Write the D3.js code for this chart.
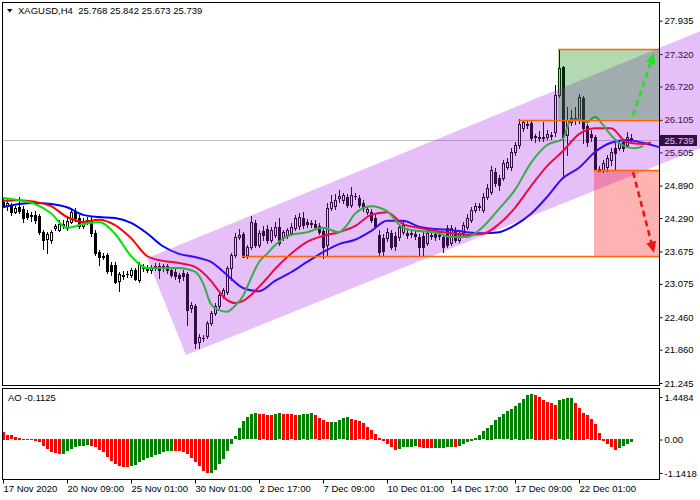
<!DOCTYPE html>
<html>
<head>
<meta charset="utf-8">
<script src="https://cdn.jsdelivr.net/npm/d3@7"></script>
<style>
  body { margin: 0; background: #fff; }
  text { font-family: "Liberation Sans", Arial, sans-serif; font-size: 9.5px; }
</style>
</head>
<body>
<div id="chart"></div>
<script>
const symbol = "XAGUSD,H4";

// x axis labels and the bar they sit on
const dateBars = [0, 16, 32, 48, 64, 80, 96, 112, 128, 144];
const dateLabels = ["17 Nov 2020", "20 Nov 09:00", "25 Nov 01:00", "30 Nov 01:00", "2 Dec 17:00",
  "7 Dec 09:00", "10 Dec 01:00", "14 Dec 17:00", "17 Dec 09:00", "22 Dec 01:00"];

const priceTicks = [27.935, 27.32, 26.72, 26.105, 25.505, 24.89, 24.29, 23.675, 23.075, 22.46, 21.86, 21.245];
const aoTicks = [1.4484, 0, -1.1418];
const aoTickLabels = ["1.4484", "0.00", "-1.1418"];

// H4 candles
const opens = [24.59,24.51,24.53,24.40,24.50,24.46,24.38,24.33,24.35,24.33,24.03,23.90,23.88,24.11,24.07,24.18,24.11,24.22,24.40,24.29,
  24.14,24.25,24.25,24.01,23.66,23.59,23.61,23.42,23.42,23.13,23.24,23.26,23.24,23.33,23.15,23.37,23.37,23.33,23.37,23.41,
  23.37,23.41,23.33,23.29,23.24,23.28,23.26,22.63,22.67,22.00,22.08,22.11,22.35,22.54,22.67,22.85,22.93,23.37,23.61,23.94,
  24.00,23.61,23.76,24.20,23.79,24.05,24.09,23.88,23.98,24.13,23.94,23.98,24.01,24.11,24.14,24.29,24.22,24.18,24.18,24.14,
  24.05,23.79,24.48,24.51,24.66,24.62,24.68,24.53,24.70,24.66,24.57,24.40,24.40,24.29,23.98,23.92,23.92,24.01,23.96,23.94,
  24.03,24.01,24.01,24.00,23.94,23.96,23.83,23.98,24.00,23.98,23.94,24.11,23.83,24.07,23.88,24.01,24.13,24.25,24.44,24.50,
  24.44,24.68,24.77,25.14,25.03,25.03,25.23,25.23,25.51,25.64,25.95,26.01,26.05,25.79,25.79,25.77,25.79,25.83,25.88,26.56,
  27.08,25.83,26.07,26.14,26.10,26.51,25.99,25.84,25.79,25.20,25.18,25.23,25.36,25.58,25.58,25.69,25.64,25.768];
const highs = [24.64,24.64,24.57,24.51,24.68,24.51,24.44,24.40,24.42,24.37,24.07,24.03,24.07,24.18,24.25,24.25,24.33,24.48,24.48,24.35,
  24.29,24.31,24.31,24.07,23.70,23.65,23.65,23.48,23.48,23.29,23.31,23.31,23.37,23.37,23.48,23.44,23.42,23.42,23.46,23.46,
  23.44,23.44,23.37,23.35,23.28,23.33,23.29,22.74,22.70,22.15,22.13,22.39,22.57,22.72,22.93,23.00,23.41,23.65,24.01,24.09,
  24.03,23.79,24.33,24.25,24.07,24.14,24.16,24.13,24.22,24.29,24.07,24.11,24.20,24.35,24.38,24.40,24.27,24.25,24.25,24.20,
  24.11,24.57,24.72,24.73,24.81,24.75,24.73,24.86,24.75,24.72,24.62,24.51,24.46,24.37,24.07,24.00,24.11,24.07,24.03,24.18,
  24.25,24.09,24.09,24.05,24.00,24.03,24.07,24.05,24.05,24.03,24.00,24.16,24.16,24.13,24.07,24.22,24.37,24.50,24.57,24.57,
  24.75,24.92,25.25,25.21,25.09,25.36,25.40,25.58,25.69,26.12,26.10,26.08,26.08,25.84,25.90,26.07,25.92,25.88,26.75,27.41,
  27.10,26.34,26.29,26.34,26.58,26.54,26.03,25.92,25.83,25.25,25.36,25.46,25.58,25.68,25.73,25.75,25.88,25.842];
const lows = [24.50,24.44,24.35,24.38,24.38,24.22,24.27,24.24,24.20,24.00,23.72,23.65,23.83,24.07,24.05,24.11,24.07,24.20,24.24,24.11,
  24.11,24.18,23.96,23.61,23.42,23.53,23.28,23.24,23.09,22.94,23.17,23.20,23.20,23.15,23.11,23.31,23.29,23.28,23.33,23.18,
  23.31,23.28,23.20,23.17,23.11,23.15,22.32,22.56,21.89,21.89,22.02,22.08,22.32,22.50,22.63,22.82,22.89,23.15,23.57,23.90,
  23.59,23.55,23.72,23.76,23.76,23.88,23.83,23.85,23.94,23.79,23.88,23.92,23.98,24.07,24.09,24.11,24.13,24.13,24.09,24.00,
  23.55,23.59,24.44,24.46,24.59,24.57,24.50,24.50,24.64,24.50,24.42,24.37,24.22,24.11,23.59,23.59,23.87,23.72,23.70,23.88,
  24.00,23.92,23.94,23.90,23.61,23.61,23.79,23.90,23.88,23.90,23.66,23.76,23.79,23.85,23.85,23.96,24.09,24.22,24.40,24.44,
  24.40,24.64,24.73,24.88,24.81,24.99,25.20,25.18,25.46,25.58,25.90,25.95,25.73,25.69,25.71,25.71,25.75,25.75,25.81,26.53,
  25.03,25.46,26.01,26.03,26.05,25.68,25.62,25.71,25.18,25.16,25.14,25.16,25.27,25.18,25.55,25.53,25.60,25.673];
const closes = [24.53,24.57,24.40,24.48,24.42,24.29,24.31,24.35,24.25,24.03,23.88,24.00,24.03,24.14,24.18,24.16,24.24,24.40,24.29,24.14,
  24.24,24.22,24.01,23.65,23.57,23.57,23.31,23.31,23.11,23.26,23.23,23.25,23.33,23.17,23.44,23.36,23.33,23.37,23.41,23.33,
  23.41,23.33,23.24,23.22,23.18,23.22,22.59,22.69,21.98,22.10,22.07,22.35,22.54,22.67,22.87,22.96,23.37,23.61,23.94,23.98,
  23.57,23.76,24.22,23.79,24.01,23.98,23.88,24.07,24.13,23.83,24.03,24.07,24.13,24.29,24.31,24.16,24.18,24.20,24.13,24.03,
  23.76,24.48,24.59,24.62,24.70,24.72,24.53,24.72,24.69,24.53,24.48,24.46,24.25,24.14,23.66,23.68,24.03,23.76,23.77,24.13,
  24.16,23.98,24.00,23.96,23.76,23.76,24.01,23.96,23.94,23.96,23.76,23.79,24.11,23.88,24.01,24.16,24.29,24.44,24.51,24.52,
  24.68,24.85,25.18,24.94,24.90,25.31,25.33,25.51,25.64,26.03,26.07,26.03,25.77,25.80,25.77,25.79,25.84,25.81,26.56,27.06,
  25.79,26.10,26.14,26.10,26.53,25.95,25.69,25.79,25.18,25.16,25.31,25.40,25.51,25.49,25.68,25.58,25.79,25.739];

// Awesome Oscillator, one value per bar
const aoValues = [0.26,0.17,0.14,0.09,0.06,0.02,-0.03,-0.05,-0.07,-0.11,-0.23,-0.34,-0.43,-0.48,-0.52,-0.51,-0.40,-0.34,-0.28,-0.25,
  -0.23,-0.19,-0.23,-0.28,-0.36,-0.45,-0.63,-0.74,-0.85,-0.91,-0.94,-0.95,-0.91,-0.88,-0.80,-0.72,-0.66,-0.60,-0.55,-0.50,
  -0.45,-0.42,-0.40,-0.41,-0.42,-0.44,-0.51,-0.66,-0.77,-0.93,-1.08,-1.17,-1.16,-1.05,-0.85,-0.68,-0.40,-0.17,0.11,0.40,
  0.63,0.76,0.86,0.89,0.88,0.86,0.85,0.84,0.87,0.89,0.88,0.87,0.86,0.84,0.85,0.86,0.88,0.89,0.82,0.74,
  0.65,0.59,0.60,0.61,0.66,0.73,0.77,0.70,0.68,0.63,0.55,0.43,0.32,0.19,0.06,-0.06,-0.17,-0.28,-0.36,-0.34,
  -0.28,-0.27,-0.26,-0.25,-0.28,-0.30,-0.31,-0.32,-0.31,-0.30,-0.29,-0.28,-0.26,-0.28,-0.23,-0.18,-0.11,-0.06,0.06,0.17,
  0.28,0.40,0.51,0.65,0.76,0.86,0.97,1.05,1.14,1.25,1.39,1.50,1.55,1.52,1.45,1.36,1.28,1.23,1.19,1.34,
  1.39,1.41,1.43,1.25,1.08,0.91,0.83,0.70,0.53,0.23,-0.06,-0.17,-0.28,-0.36,-0.31,-0.23,-0.17,-0.1125];

// Alligator lines, read every few bars (they run past the last bar)
const lipsBars = [0,4,8,12,16,20,24,28,32,36,40,44,48,50,52,54,56,58,60,62,64,66,68,72,76,80,84,86,88,92,
  96,100,104,108,112,116,120,124,128,132,136,140,141,142,144,146,148,150,152,154,156,158,160];
const lipsValues = [24.66,24.62,24.55,24.38,24.11,24.18,24.22,24.00,23.59,23.37,23.37,23.37,23.30,23.09,22.70,22.59,22.56,22.67,22.85,23.18,
  23.48,23.63,23.79,23.98,24.03,24.11,24.03,24.16,24.37,24.51,24.42,24.11,24.05,24.03,23.94,23.94,24.13,24.46,24.81,25.31,
  25.64,25.75,25.95,26.10,26.10,26.06,26.16,26.01,25.82,25.68,25.60,25.58,25.62];
const teethBars = [0,4,8,12,16,20,24,28,32,36,40,44,48,52,54,56,58,60,62,64,66,68,72,76,80,84,88,92,96,100,
  104,108,112,116,120,124,128,132,136,140,144,148,152,156,160,162];
const teethValues = [24.61,24.62,24.59,24.51,24.31,24.22,24.26,24.16,23.92,23.59,23.50,23.46,23.39,23.13,22.94,22.78,22.72,22.76,22.87,23.02,
  23.18,23.35,23.63,23.85,23.96,24.03,24.14,24.35,24.40,24.18,24.11,24.05,24.01,23.98,24.00,24.18,24.48,24.88,25.25,25.53,
  25.84,25.95,25.95,25.69,25.66,25.68];
const jawBars = [0,4,8,12,16,20,24,28,32,36,40,44,48,52,56,60,64,68,72,76,80,84,88,92,96,100,
  104,108,112,116,120,124,128,132,136,140,144,148,152,156,160,164];
const jawValues = [24.49,24.55,24.57,24.55,24.49,24.35,24.31,24.29,24.20,24.01,23.77,23.63,23.57,23.48,23.24,23.00,22.94,23.13,23.29,23.48,
  23.66,23.81,23.89,24.05,24.24,24.24,24.13,24.09,24.07,24.03,24.01,24.03,24.16,24.37,24.68,25.03,25.22,25.51,25.68,25.73,
  25.68,25.60];

// drawn objects: channel corners [bar, price], levels, zones, arrows
const channelUpper = [[36, 23.55], [174.25, 27.74]];
const channelLower = [[45.75, 21.76], [174.25, 25.58]];
const levelStart = [59.75, 128.75, 138.75, 147.75];
const levelPrice = [23.59, 26.11, 27.41, 25.18];
const buyZone = [138.75, 27.41, 26.11];
const sellZone = [147.75, 25.18, 23.59];
const upArrow = [[157.5, 26.19], [162.75, 27.34]];
const downArrow = [[157.5, 25.14], [162.75, 23.65]];

const W = 700, H = 500;
const left = 2.5, right = 659.5, mainTop = 2.5, mainBottom = 385.5, aoTop = 388.5, aoBottom = 479.5;
const lastBar = 164;

const x = d3.scaleLinear().domain([0, 164]).range([3, 659]);
const y = d3.scaleLinear().domain([21.245, 27.935]).range([383, 20.7]);
const yAO = d3.scaleLinear().domain([-1.1418, 1.4484]).range([473, 397]);

const svg = d3.select("#chart").append("svg")
  .attr("width", W).attr("height", H)
  .style("display", "block");

svg.append("rect").attr("width", W).attr("height", H).attr("fill", "#fff");

svg.append("clipPath").attr("id", "plot")
  .append("rect").attr("x", left).attr("y", mainTop)
  .attr("width", right - left).attr("height", mainBottom - mainTop);

// current price line
const last = closes.length - 1;
svg.append("line")
  .attr("x1", left).attr("x2", right)
  .attr("y1", Math.round(y(closes[last])) + 0.5).attr("y2", Math.round(y(closes[last])) + 0.5)
  .attr("stroke", "#c0c0c0");

// price axis
svg.append("g")
  .attr("transform", `translate(${right},0)`)
  .call(d3.axisRight(y).tickValues(priceTicks).tickFormat(d3.format(".3f")).tickSize(3).tickPadding(2))
  .call((g) => g.select(".domain").remove())
  .attr("font-size", null).attr("font-family", null);

// last price box
const yLast = Math.round(y(closes[last]));
svg.append("rect").attr("x", 660).attr("y", yLast - 5).attr("width", 37).attr("height", 11).attr("fill", "#000");
svg.append("text").attr("x", 664.5).attr("y", yLast + 4).attr("fill", "#fff").text(closes[last].toFixed(3));

// candles
const plot = svg.append("g").attr("clip-path", "url(#plot)");
const bars = opens.map((o, i) => ({ i, o, h: highs[i], l: lows[i], c: closes[i] }));

plot.selectAll(".wick").data(bars).join("line")
  .attr("x1", (d) => x(d.i) + 0.5).attr("x2", (d) => x(d.i) + 0.5)
  .attr("y1", (d) => Math.round(y(d.h))).attr("y2", (d) => Math.round(y(d.l)) + 1)
  .attr("stroke", "#000");

plot.selectAll(".body").data(bars).join("rect")
  .each(function (d) {
    const top = Math.round(y(Math.max(d.o, d.c)));
    const bot = Math.round(y(Math.min(d.o, d.c)));
    const sel = d3.select(this);
    if (d.c >= d.o) {
      // bull candle: white body, black outline
      sel.attr("x", x(d.i) - 0.5).attr("y", top + 0.5)
        .attr("width", 2).attr("height", Math.max(0, bot - top))
        .attr("fill", "#fff").attr("stroke", "#000");
    } else {
      sel.attr("x", x(d.i) - 1).attr("y", top)
        .attr("width", 3).attr("height", Math.max(1, bot - top + 1))
        .attr("fill", "#000");
    }
  });

// alligator
const maLine = d3.line().x((d) => x(d[0])).y((d) => y(d[1])).curve(d3.curveMonotoneX);
[[jawBars, jawValues, "#0000ff"], [teethBars, teethValues, "#ff0000"], [lipsBars, lipsValues, "#00e600"]]
  .forEach(([b, v, col]) => {
    plot.append("path")
      .datum(b.map((d, k) => [d, v[k]]))
      .attr("d", maLine)
      .attr("fill", "none").attr("stroke", col).attr("stroke-width", 2);
  });

// channel over the price data
const corners = [channelUpper[0], channelUpper[1], channelLower[1], channelLower[0]];
svg.append("path")
  .attr("d", "M" + corners.map((d) => `${x(d[0])},${y(d[1])}`).join("L") + "Z")
  .attr("fill", "rgb(172,42,235)").attr("fill-opacity", 0.3);

// target zones
svg.append("rect")
  .attr("x", x(buyZone[0])).attr("y", y(buyZone[1]))
  .attr("width", x(lastBar) - x(buyZone[0])).attr("height", y(buyZone[2]) - y(buyZone[1]))
  .attr("fill", "rgb(0,128,0)").attr("fill-opacity", 0.3);
svg.append("rect")
  .attr("x", x(sellZone[0])).attr("y", y(sellZone[1]))
  .attr("width", x(lastBar) - x(sellZone[0])).attr("height", y(sellZone[2]) - y(sellZone[1]))
  .attr("fill", "rgb(255,0,0)").attr("fill-opacity", 0.3);

// horizontal levels
svg.selectAll(".level").data(levelPrice).join("line")
  .attr("x1", (d, k) => x(levelStart[k])).attr("x2", x(lastBar))
  .attr("y1", (d) => Math.round(y(d)) + 0.5).attr("y2", (d) => Math.round(y(d)) + 0.5)
  .attr("stroke", "#ff6600").attr("stroke-width", 1.3);

// dashed arrows
function arrow(pts, col) {
  const x1 = x(pts[0][0]), y1 = y(pts[0][1]);
  const x2 = x(pts[1][0]), y2 = y(pts[1][1]);
  const a = Math.atan2(y2 - y1, x2 - x1);
  const len = 11, half = 5;
  const bx = x2 - len * Math.cos(a), by = y2 - len * Math.sin(a);
  svg.append("line")
    .attr("x1", x1).attr("y1", y1).attr("x2", bx).attr("y2", by)
    .attr("stroke", col).attr("stroke-width", 2.5).attr("stroke-dasharray", "6,4");
  svg.append("path")
    .attr("d", `M${x2},${y2}L${bx + half * Math.sin(a)},${by - half * Math.cos(a)}L${bx - half * Math.sin(a)},${by + half * Math.cos(a)}Z`)
    .attr("fill", col);
}
arrow(upArrow, "#22e022");
arrow(downArrow, "#ee1111");

// AO histogram
svg.selectAll(".ao").data(aoValues).join("rect")
  .attr("x", (d, i) => x(i) - 1)
  .attr("y", (d) => Math.round(Math.min(yAO(d), yAO(0))))
  .attr("width", 3)
  .attr("height", (d) => Math.max(1, Math.round(Math.abs(yAO(d) - yAO(0)))))
  .attr("fill", (d, i) => (i > 0 && d > aoValues[i - 1] ? "#008000" : "#ff0000"));

svg.append("g")
  .attr("transform", `translate(${right},0)`)
  .call(d3.axisRight(yAO).tickValues(aoTicks).tickFormat((d, k) => aoTickLabels[k]).tickSize(3).tickPadding(2))
  .call((g) => g.select(".domain").remove())
  .attr("font-size", null).attr("font-family", null);

// time axis
svg.append("g")
  .attr("transform", `translate(0,${aoBottom})`)
  .call(d3.axisBottom(x).tickValues(dateBars).tickFormat((d, k) => dateLabels[k]).tickSize(4).tickPadding(2))
  .call((g) => g.select(".domain").remove())
  .call((g) => g.selectAll("text").attr("text-anchor", "start").attr("x", 0))
  .attr("font-size", null).attr("font-family", null);

// frames
svg.append("rect").attr("x", left).attr("y", mainTop)
  .attr("width", right - left).attr("height", mainBottom - mainTop)
  .attr("fill", "none").attr("stroke", "#000");
svg.append("rect").attr("x", left).attr("y", aoTop)
  .attr("width", right - left).attr("height", aoBottom - aoTop)
  .attr("fill", "none").attr("stroke", "#000");

// titles
svg.append("path").attr("d", "M7,9L12.5,9L9.75,12.5Z").attr("fill", "#000");
svg.append("text").attr("x", 18).attr("y", 14).style("white-space", "pre")
  .text(`${symbol}  ${opens[last].toFixed(3)} ${highs[last].toFixed(3)} ${lows[last].toFixed(3)} ${closes[last].toFixed(3)}`);
svg.append("text").attr("x", 8).attr("y", 400.5)
  .text(`AO ${aoValues[last].toFixed(4)}`);
</script>
</body>
</html>
